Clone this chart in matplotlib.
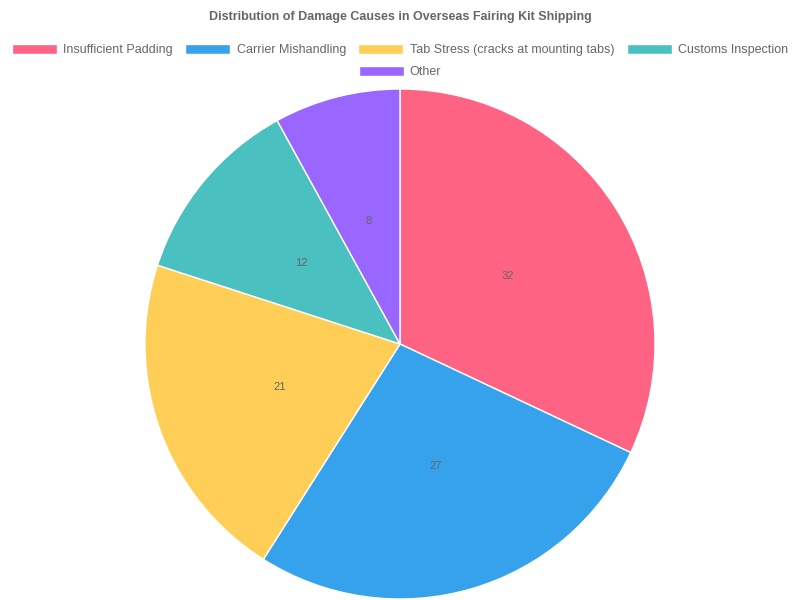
import matplotlib
matplotlib.use("Agg")
import matplotlib.pyplot as plt
from matplotlib.patches import Patch

categories = ["Insufficient Padding", "Carrier Mishandling", "Tab Stress (cracks at mounting tabs)", "Customs Inspection", "Other"]
values = [32, 27, 21, 12, 8]
colors = ["#FF6384", "#36A2EB", "#FFCE56", "#4BC0C0", "#9966FF"]

plt.rcParams['font.family'] = ['Liberation Sans', 'DejaVu Sans']
fig = plt.figure(figsize=(8, 6), dpi=100)
ax = fig.add_axes([145/800, 1/600, 510/800, 510/600])
wedges, texts = ax.pie(values, colors=colors, startangle=90, counterclock=False,
                       radius=1, wedgeprops=dict(edgecolor="white", linewidth=1),
                       labels=[str(v) for v in values], labeldistance=0.5,
                       textprops=dict(color="#666666", fontsize=8, ha="center", va="center"))
ax.set_xlim(-1, 1); ax.set_ylim(-1, 1); ax.set_aspect("equal")

fig.text(0.5, 1 - 17/600, "Distribution of Damage Causes in Overseas Fairing Kit Shipping",
         ha="center", va="center", fontsize=9, fontweight="bold", color="#666666")

handles = [Patch(facecolor=c, edgecolor="white") for c in colors]
kw = dict(frameon=False, fontsize=9, labelcolor="#666666", handlelength=3.6, handleheight=0.9,
          columnspacing=1.0, handletextpad=0.5, borderaxespad=0)
fig.legend(handles[:4], categories[:4], ncol=4, loc="center", bbox_to_anchor=(0.5, 1 - 50/600), **kw)
fig.legend(handles[4:], categories[4:], ncol=1, loc="center", bbox_to_anchor=(0.5, 1 - 72/600), **kw)

fig.savefig("out.png", dpi=100, facecolor="white")
